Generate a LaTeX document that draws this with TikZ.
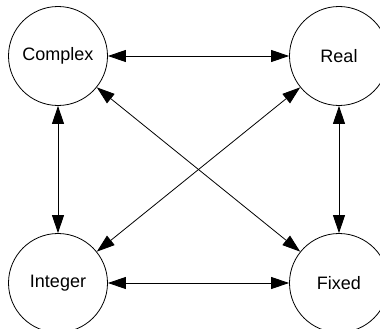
\documentclass[tikz,border=0pt]{standalone}
\usepackage{fontspec}
\setmainfont{Liberation Sans}
\usetikzlibrary{arrows.meta}

\begin{document}
\begin{tikzpicture}[x=1pt,y=-1pt,
  numtype/.style={draw, circle, minimum size=99pt, inner sep=0pt, line width=0.8pt, font=\fontsize{18}{21}\selectfont},
  conv/.style={arrows={Triangle[length=18pt,width=12pt]-Triangle[length=18pt,width=12pt]}, line width=0.8pt}]
\useasboundingbox (0,0) rectangle (380,329);
\clip (0,0) rectangle (380,329);
\node [numtype] (complex) at (58,56) {Complex};
\node [numtype] (real) at (339,56) {Real};
\node [numtype] (integer) at (58,283) {Integer};
\node [numtype] (fixed) at (339,283) {Fixed};
\draw [conv] (complex) -- (real);
\draw [conv] (integer) -- (fixed);
\draw [conv] (complex) -- (integer);
\draw [conv] (real) -- (fixed);
\draw [conv] (complex) -- (fixed);
\draw [conv] (real) -- (integer);
\end{tikzpicture}
\end{document}
